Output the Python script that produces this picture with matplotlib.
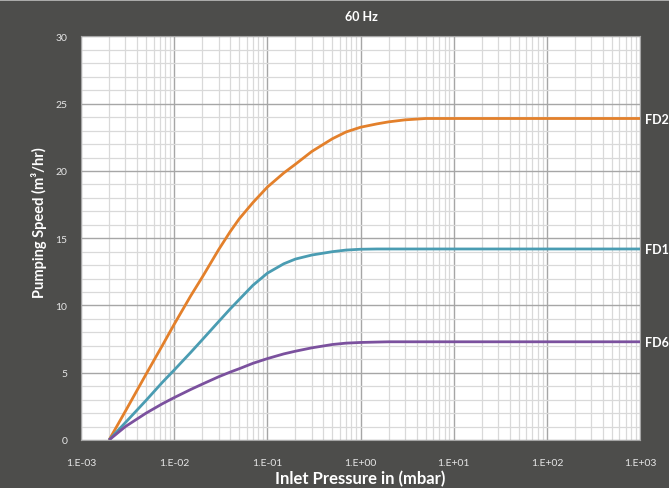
import matplotlib.pyplot as plt
from matplotlib.lines import Line2D
from matplotlib.ticker import LogLocator, MultipleLocator, FixedLocator, NullFormatter

# data
pressure = [0.002, 0.003, 0.005, 0.0075, 0.01, 0.015, 0.02, 0.03, 0.04, 0.05, 0.07, 0.1,
            0.15, 0.2, 0.3, 0.5, 0.7, 1, 1.5, 2, 3, 5, 10, 100, 1000]
fd2 = [0, 2.15, 4.9, 7.05, 8.6, 10.7, 12.1, 14.15, 15.5, 16.45, 17.65, 18.8,
       19.85, 20.5, 21.45, 22.4, 22.9, 23.25, 23.5, 23.65, 23.8, 23.9, 23.9, 23.9, 23.9]
fd1 = [0, 1.3, 2.95, 4.3, 5.2, 6.5, 7.45, 8.8, 9.75, 10.45, 11.5, 12.4,
       13.1, 13.45, 13.75, 14.0, 14.12, 14.18, 14.2, 14.2, 14.2, 14.2, 14.2, 14.2, 14.2]
fd6 = [0, 1.0, 2.0, 2.7, 3.15, 3.75, 4.15, 4.7, 5.05, 5.3, 5.7, 6.05,
       6.4, 6.6, 6.85, 7.1, 7.2, 7.25, 7.28, 7.3, 7.3, 7.3, 7.3, 7.3, 7.3]

series = [("FD2", fd2, "#E3802B"), ("FD1", fd1, "#4A9CB2"), ("FD6", fd6, "#7B519E")]
xticks = [1e-3, 1e-2, 1e-1, 1e0, 1e1, 1e2, 1e3]
xlabels = ["1.E-03", "1.E-02", "1.E-01", "1.E+00", "1.E+01", "1.E+02", "1.E+03"]

bg = "#4d4d4b"
plt.rcParams["font.family"] = ["Lato", "DejaVu Sans"]

fig = plt.figure(figsize=(6.69, 4.89), dpi=100, facecolor=bg)
ax = fig.add_axes([0.1211, 0.0982, 0.8356, 0.8252])
ax.set_facecolor("white")

for name, vals, col in series:
    ax.plot(pressure, vals, color=col, linewidth=2.0, solid_capstyle="butt",
            solid_joinstyle="round", zorder=3)
    ax.text(1.008, vals[-1] / 30, name, transform=ax.transAxes, color="white",
            fontsize=9, fontweight="bold", va="center", ha="left", clip_on=False)

ax.set_xscale("log")
ax.set_xlim(1e-3, 1e3)
ax.set_ylim(0, 30)
ax.xaxis.set_major_locator(FixedLocator(xticks))
ax.set_xticklabels(xlabels)
ax.xaxis.set_minor_locator(LogLocator(base=10, subs=range(2, 10), numticks=20))
ax.xaxis.set_minor_formatter(NullFormatter())
ax.yaxis.set_major_locator(MultipleLocator(5))
ax.yaxis.set_minor_locator(MultipleLocator(1))

ax.grid(which="major", color="#a6a6a6", linewidth=1.0)
ax.grid(which="minor", color="#d9d9d9", linewidth=0.9)
ax.set_axisbelow(True)

for s in ax.spines.values():
    s.set_color("#a6a6a6")

ax.tick_params(which="both", length=0, colors="#e6e6e6", labelsize=7.5)
ax.tick_params(axis="x", pad=13)
ax.tick_params(axis="y", pad=10)

ax.set_xlabel("Inlet Pressure in (mbar)", color="white", fontsize=12,
              fontweight="bold", labelpad=2)
ax.set_ylabel("Pumping Speed (m³/hr)", color="white", fontsize=10.5,
              fontweight="bold")
ax.yaxis.set_label_coords(-0.061, 0.54)
fig.text(0.5396, 1 - 17 / 489, "60 Hz", color="white", fontsize=9,
         fontweight="bold", ha="center", va="center")

# thin light strip along the top edge
fig.add_artist(Line2D([0, 1], [0.998, 0.998], transform=fig.transFigure,
                      color="#bdbdbd", linewidth=1.2))

fig.savefig("out.png", dpi=100, facecolor=bg)
